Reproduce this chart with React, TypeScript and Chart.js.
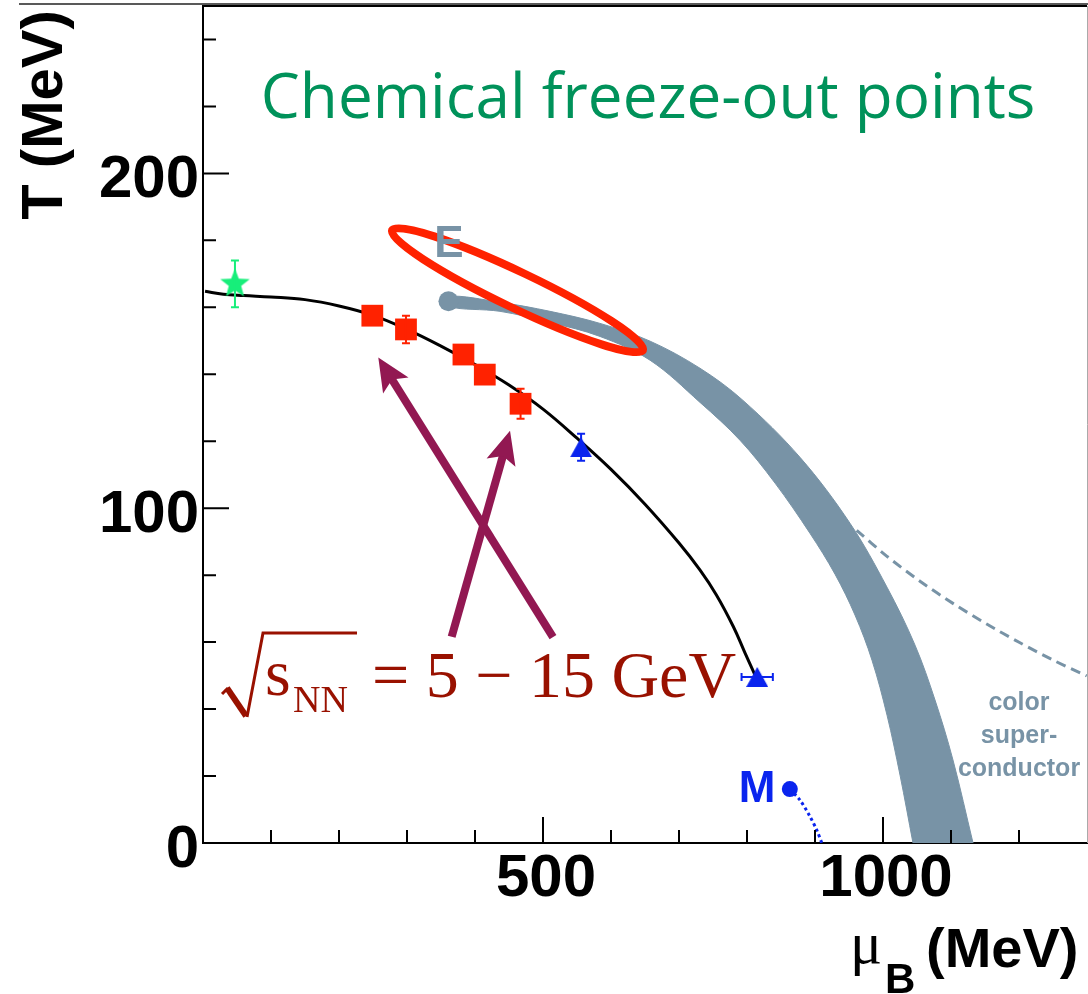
import React, { useEffect, useRef } from 'react';
import { Chart, registerables } from 'chart.js';

Chart.register(...registerables);

// ---------- axes ----------
const X_MIN = 0;
const X_MAX = 1300;
const Y_MIN = 0;
const Y_MAX = 250;
const X_TICK_LABELS = [500, 1000];
const Y_TICK_LABELS = [0, 100, 200];
const X_MINOR_TICKS = [100, 200, 300, 400, 600, 700, 800, 900, 1100, 1200];
const Y_MINOR_TICKS = [20, 40, 60, 80, 120, 140, 160, 180, 220, 240];

// ---------- chemical freeze-out curve ----------
const CURVE_MU = [3, 30, 60, 100, 150, 200, 250, 300, 350, 400, 450, 500, 550, 600, 650, 700, 731, 755, 780, 797, 813];
const CURVE_T = [164.8, 163.9, 163.5, 163.1, 162.3, 160.4, 157.6, 153.4, 148.4, 142.9, 136.8, 129.6, 120.9, 111.6, 101.2, 89.6, 81.5, 74.1, 64.6, 56.8, 49.6];

// ---------- data points ----------
const STAR_MU = [47];
const STAR_T = [167];
const STAR_ERR_T = [7];

const SQUARE_MU = [249, 298.5, 383, 414.4, 467];
const SQUARE_T = [157.5, 153.4, 145.9, 139.9, 131.2];
const SQUARE_ERR_T = [0, 4.1, 0, 0, 4.5];

const TRIANGLE_MU = [556, 815];
const TRIANGLE_T = [118.2, 49.6];
const TRIANGLE_ERR_T = [4, 0];
const TRIANGLE_ERR_MU = [0, 23];

// ---------- phase boundary band (upper/right edge and lower/left edge) ----------
const BAND_UPPER_MU = [360.3, 436.8, 510.3, 583.8, 657.4, 730.9, 794.1, 877.9, 951.5, 1005.9, 1047.1, 1076.5, 1102.9, 1132.4];
const BAND_UPPER_T = [163.3, 161.5, 158.8, 155.2, 149.9, 141.8, 132.2, 115.2, 95.5, 76.4, 59.1, 42.7, 24.8, 0];
const BAND_LOWER_MU = [360.3, 436.8, 510.3, 583.8, 657.4, 730.9, 789.7, 841.2, 892.6, 929.4, 958.8, 983.8, 1005.9, 1025, 1044.1];
const BAND_LOWER_T = [160.3, 158.8, 155.5, 151.3, 144.2, 131.6, 120.3, 107.5, 92.5, 80.3, 68.1, 54.6, 38.2, 20.3, 0];

const CRITICAL_POINT_MU = [361];
const CRITICAL_POINT_T = [161.8];

// ---------- colour superconductor boundary ----------
const CSC_MU = [961.3, 1005.4, 1054.4, 1103.4, 1152.5, 1201.5, 1250.4, 1299.5];
const CSC_T = [93.4, 85.7, 78.2, 71.5, 65.4, 59.8, 54.6, 49.9];

// ---------- nuclear matter point M ----------
const M_POINT_MU = [863];
const M_POINT_T = [16.1];
const M_LINE_MU = [863, 878, 892.6, 902.5, 910];
const M_LINE_T = [16.1, 12.8, 7.9, 3.9, 0];

// ---------- annotations (data coordinates) ----------
const ELLIPSE_CENTER = [462.5, 165.1];
const ELLIPSE_END = [647, 147.2];
const ARROW_1 = [514.7, 61.5, 257.8, 145];
const ARROW_2 = [365.7, 61.6, 451.5, 123.1];

const TITLE_TEXT = 'Chemical freeze-out points';
const TITLE_POS = [85, 216.4];
const E_TEXT = 'E';
const E_POS = [340, 175];
const M_TEXT = 'M';
const M_POS = [788, 12.2];
const CSC_LINES = ['color', 'super-', 'conductor'];
const CSC_POS = [1200, 39.7];
const SQRT_POS = [91.2, 44.2];
const SQRT_SUB = 'NN';
const SQRT_RHS = '= 5 \u2212 15 GeV';
const Y_TITLE = 'T (MeV)';
const X_TITLE_MU = '\u03bc';
const X_TITLE_SUB = 'B';
const X_TITLE_UNIT = '(MeV)';

// ---------- styles ----------
const BAND_COLOR = '#7893a6';
const RED = '#ff2200';
const BLUE = '#0a24ee';
const GREEN_STAR = '#17ee7a';
const ARROW_COLOR = '#921852';
const TEXT_RED = '#991100';
const TITLE_GREEN = '#00925a';
const SANS = '"Liberation Sans", Arial, Helvetica, sans-serif';
const SERIF = '"Liberation Serif", "Times New Roman", serif';

const zip = (xs: number[], ys: number[]) => xs.map((x, i) => ({ x, y: ys[i] }));

function makeStar(color: string, R: number) {
  const c = document.createElement('canvas');
  const s = Math.ceil(2 * R + 2);
  c.width = s;
  c.height = s;
  const g = c.getContext('2d')!;
  g.fillStyle = color;
  g.beginPath();
  const r = R * 0.42;
  for (let i = 0; i < 10; i++) {
    const a = -Math.PI / 2 + (i * Math.PI) / 5;
    const rr = i % 2 === 0 ? R : r;
    const x = s / 2 + rr * Math.cos(a);
    const y = s / 2 + rr * Math.sin(a);
    if (i === 0) g.moveTo(x, y);
    else g.lineTo(x, y);
  }
  g.closePath();
  g.fill();
  return c;
}

function makeTriangle(color: string, w: number, h: number) {
  const c = document.createElement('canvas');
  c.width = w;
  c.height = h;
  const g = c.getContext('2d')!;
  g.fillStyle = color;
  g.beginPath();
  g.moveTo(w / 2, 0);
  g.lineTo(w, h);
  g.lineTo(0, h);
  g.closePath();
  g.fill();
  return c;
}

function drawArrow(ctx: CanvasRenderingContext2D, x1: number, y1: number, x2: number, y2: number) {
  const dx = x2 - x1;
  const dy = y2 - y1;
  const L = Math.hypot(dx, dy);
  const ux = dx / L;
  const uy = dy / L;
  const nx = -uy;
  const ny = ux;
  const headLen = 33;
  const headHalf = 15;
  const notch = 7;
  ctx.strokeStyle = ARROW_COLOR;
  ctx.fillStyle = ARROW_COLOR;
  ctx.lineWidth = 8;
  ctx.lineCap = 'butt';
  ctx.beginPath();
  ctx.moveTo(x1, y1);
  ctx.lineTo(x2 - ux * (headLen - notch - 2), y2 - uy * (headLen - notch - 2));
  ctx.stroke();
  ctx.beginPath();
  ctx.moveTo(x2, y2);
  ctx.lineTo(x2 - ux * headLen + nx * headHalf, y2 - uy * headLen + ny * headHalf);
  ctx.lineTo(x2 - ux * (headLen - notch), y2 - uy * (headLen - notch));
  ctx.lineTo(x2 - ux * headLen - nx * headHalf, y2 - uy * headLen - ny * headHalf);
  ctx.closePath();
  ctx.fill();
}

const errorBarPlugin = {
  id: 'errorBars',
  afterDatasetDraw(chart: any, args: any) {
    const ds: any = chart.data.datasets[args.index];
    if (!ds.errT && !ds.errMu) return;
    const xs = chart.scales.x;
    const ys = chart.scales.y;
    const ctx: CanvasRenderingContext2D = chart.ctx;
    ctx.save();
    ctx.strokeStyle = ds.errColor;
    ctx.lineWidth = 2;
    ds.data.forEach((p: any, i: number) => {
      const x = xs.getPixelForValue(p.x);
      const y = ys.getPixelForValue(p.y);
      const eT = ds.errT ? ds.errT[i] : 0;
      if (eT > 0) {
        const y1 = ys.getPixelForValue(p.y - eT);
        const y2 = ys.getPixelForValue(p.y + eT);
        ctx.beginPath();
        ctx.moveTo(x, y1);
        ctx.lineTo(x, y2);
        ctx.moveTo(x - 4, y1);
        ctx.lineTo(x + 4, y1);
        ctx.moveTo(x - 4, y2);
        ctx.lineTo(x + 4, y2);
        ctx.stroke();
      }
      const eM = ds.errMu ? ds.errMu[i] : 0;
      if (eM > 0) {
        const x1 = xs.getPixelForValue(p.x - eM);
        const x2 = xs.getPixelForValue(p.x + eM);
        ctx.beginPath();
        ctx.moveTo(x1, y);
        ctx.lineTo(x2, y);
        ctx.moveTo(x1, y - 4);
        ctx.lineTo(x1, y + 4);
        ctx.moveTo(x2, y - 4);
        ctx.lineTo(x2, y + 4);
        ctx.stroke();
      }
    });
    ctx.restore();
  },
};

const decorPlugin = {
  id: 'decor',
  afterDatasetsDraw(chart: any) {
    const xs = chart.scales.x;
    const ys = chart.scales.y;
    const ctx: CanvasRenderingContext2D = chart.ctx;
    const X = (v: number) => xs.getPixelForValue(v);
    const Y = (v: number) => ys.getPixelForValue(v);
    ctx.save();
    const cx = X(ELLIPSE_CENTER[0]);
    const cy = Y(ELLIPSE_CENTER[1]);
    const ex = X(ELLIPSE_END[0]);
    const ey = Y(ELLIPSE_END[1]);
    const a = Math.hypot(ex - cx, ey - cy);
    const ang = Math.atan2(ey - cy, ex - cx);
    ctx.strokeStyle = RED;
    ctx.lineWidth = 8;
    ctx.beginPath();
    ctx.ellipse(cx, cy, a, 18, ang, 0, Math.PI * 2);
    ctx.stroke();
    drawArrow(ctx, X(ARROW_1[0]), Y(ARROW_1[1]), X(ARROW_1[2]), Y(ARROW_1[3]));
    drawArrow(ctx, X(ARROW_2[0]), Y(ARROW_2[1]), X(ARROW_2[2]), Y(ARROW_2[3]));
    ctx.restore();
  },
  afterDraw(chart: any) {
    const xs = chart.scales.x;
    const ys = chart.scales.y;
    const area = chart.chartArea;
    const ctx: CanvasRenderingContext2D = chart.ctx;
    const X = (v: number) => xs.getPixelForValue(v);
    const Y = (v: number) => ys.getPixelForValue(v);
    ctx.save();
    // frame
    ctx.strokeStyle = '#222';
    ctx.lineWidth = 1.5;
    ctx.beginPath();
    ctx.moveTo(19, 4);
    ctx.lineTo(1088, 4);
    ctx.stroke();
    ctx.strokeStyle = '#000';
    ctx.lineWidth = 2;
    ctx.beginPath();
    ctx.moveTo(area.left, area.top);
    ctx.lineTo(area.right, area.top);
    ctx.stroke();
    ctx.strokeStyle = '#aaa';
    ctx.lineWidth = 1;
    ctx.beginPath();
    ctx.moveTo(area.right + 0.5, area.top);
    ctx.lineTo(area.right + 0.5, area.bottom);
    ctx.stroke();
    // inner ticks
    ctx.strokeStyle = '#000';
    ctx.lineWidth = 2;
    ctx.beginPath();
    X_TICK_LABELS.forEach((v) => {
      const x = X(v);
      ctx.moveTo(x, area.bottom);
      ctx.lineTo(x, area.bottom - 26);
    });
    X_MINOR_TICKS.forEach((v) => {
      const x = X(v);
      ctx.moveTo(x, area.bottom);
      ctx.lineTo(x, area.bottom - 13);
    });
    Y_TICK_LABELS.forEach((v) => {
      const y = Y(v);
      ctx.moveTo(area.left, y);
      ctx.lineTo(area.left + 26, y);
    });
    Y_MINOR_TICKS.forEach((v) => {
      const y = Y(v);
      ctx.moveTo(area.left, y);
      ctx.lineTo(area.left + 13, y);
    });
    ctx.stroke();

    // title
    ctx.fillStyle = TITLE_GREEN;
    ctx.font = '62px "Open Sans", sans-serif';
    ctx.textAlign = 'left';
    ctx.textBaseline = 'alphabetic';
    ctx.fillText(TITLE_TEXT, X(TITLE_POS[0]), Y(TITLE_POS[1]));

    // E and M labels
    ctx.font = 'bold 44px ' + SANS;
    ctx.fillStyle = BAND_COLOR;
    ctx.fillText(E_TEXT, X(E_POS[0]), Y(E_POS[1]));
    ctx.fillStyle = BLUE;
    ctx.fillText(M_TEXT, X(M_POS[0]), Y(M_POS[1]));

    // colour superconductor
    ctx.font = 'bold 25px ' + SANS;
    ctx.fillStyle = BAND_COLOR;
    ctx.textAlign = 'center';
    CSC_LINES.forEach((s, i) => ctx.fillText(s, X(CSC_POS[0]), Y(CSC_POS[1]) + i * 33));

    // sqrt(s_NN) = 5 - 15 GeV
    const sx = X(SQRT_POS[0]);
    const sy = Y(SQRT_POS[1]);
    ctx.fillStyle = TEXT_RED;
    ctx.strokeStyle = TEXT_RED;
    ctx.textAlign = 'left';
    ctx.font = '66px ' + SERIF;
    ctx.fillText('s', sx, sy);
    ctx.font = '38px ' + SERIF;
    ctx.fillText(SQRT_SUB, sx + 28, sy + 17);
    ctx.font = '66px ' + SERIF;
    ctx.fillText(SQRT_RHS, sx + 107, sy + 2);
    ctx.lineJoin = 'miter';
    ctx.lineWidth = 3;
    ctx.beginPath();
    ctx.moveTo(sx - 43, sy - 1);
    ctx.lineTo(sx - 37, sy - 7);
    ctx.moveTo(sx - 18, sy + 22);
    ctx.lineTo(sx - 2, sy - 62);
    ctx.lineTo(sx + 92, sy - 62);
    ctx.stroke();
    ctx.lineWidth = 6;
    ctx.beginPath();
    ctx.moveTo(sx - 38, sy - 7);
    ctx.lineTo(sx - 19, sy + 21);
    ctx.stroke();

    // axis titles
    ctx.fillStyle = '#000';
    ctx.font = 'bold 58px ' + SANS;
    ctx.save();
    ctx.translate(62, 115);
    ctx.rotate(-Math.PI / 2);
    ctx.textAlign = 'center';
    ctx.fillText(Y_TITLE, 0, 0);
    ctx.restore();
    ctx.textAlign = 'left';
    ctx.font = '60px ' + SERIF;
    ctx.fillText(X_TITLE_MU, 850, 963);
    ctx.font = 'bold 42px ' + SANS;
    ctx.fillText(X_TITLE_SUB, 885, 993);
    ctx.font = 'bold 56px ' + SANS;
    ctx.fillText(X_TITLE_UNIT, 926, 967);
    ctx.restore();
  },
};

export default function App() {
  const ref = useRef<HTMLCanvasElement>(null);
  useEffect(() => {
    document.body.style.margin = '0';
    const canvas = ref.current!;
    const star = makeStar(GREEN_STAR, 15.5);
    const tri = makeTriangle(BLUE, 22, 20);
    // closed outline: up the right edge to E, then down the left edge
    const bandPoly = [
      ...zip(BAND_UPPER_MU, BAND_UPPER_T).reverse(),
      ...zip(BAND_LOWER_MU, BAND_LOWER_T),
    ];
    const tickFont = { family: SANS, size: 60, weight: 'bold' as const };
    const chart = new Chart(canvas, {
      type: 'scatter',
      data: {
        datasets: [
          {
            data: bandPoly,
            showLine: true,
            fill: 'shape',
            backgroundColor: BAND_COLOR,
            borderColor: BAND_COLOR,
            borderWidth: 1,
            pointRadius: 0,
            tension: 0.35,
            order: 20,
          } as any,
          {
            data: zip(CSC_MU, CSC_T),
            showLine: true,
            borderColor: BAND_COLOR,
            borderWidth: 3,
            borderDash: [10, 6],
            pointRadius: 0,
            tension: 0.3,
            order: 19,
          },
          {
            data: zip(CRITICAL_POINT_MU, CRITICAL_POINT_T),
            pointRadius: 10,
            pointStyle: 'circle',
            backgroundColor: BAND_COLOR,
            borderWidth: 0,
            order: 18,
          },
          {
            data: zip(M_LINE_MU, M_LINE_T),
            showLine: true,
            borderColor: BLUE,
            borderWidth: 3,
            borderDash: [3, 3],
            pointRadius: 0,
            tension: 0.3,
            order: 17,
          },
          {
            data: zip(M_POINT_MU, M_POINT_T),
            pointRadius: 8,
            pointStyle: 'circle',
            backgroundColor: BLUE,
            borderWidth: 0,
            order: 16,
          },
          {
            data: zip(CURVE_MU, CURVE_T),
            showLine: true,
            borderColor: '#000',
            borderWidth: 3,
            pointRadius: 0,
            tension: 0.4,
            order: 15,
          },
          {
            data: zip(STAR_MU, STAR_T),
            pointStyle: star,
            pointRadius: 10,
            errT: STAR_ERR_T,
            errColor: GREEN_STAR,
            order: 5,
          } as any,
          {
            data: zip(SQUARE_MU, SQUARE_T),
            pointStyle: 'rect',
            pointRadius: 15.4,
            backgroundColor: RED,
            borderColor: RED,
            borderWidth: 0,
            errT: SQUARE_ERR_T,
            errColor: RED,
            order: 4,
          } as any,
          {
            data: zip(TRIANGLE_MU, TRIANGLE_T),
            pointStyle: tri,
            pointRadius: 10,
            errT: TRIANGLE_ERR_T,
            errMu: TRIANGLE_ERR_MU,
            errColor: BLUE,
            order: 3,
          } as any,
        ],
      },
      options: {
        animation: false,
        responsive: false,
        maintainAspectRatio: false,
        events: [],
        layout: { autoPadding: false, padding: { top: 6, right: 1, left: 0, bottom: 0 } },
        plugins: {
          legend: { display: false },
          tooltip: { enabled: false },
          title: { display: false },
        },
        scales: {
          x: {
            type: 'linear',
            min: X_MIN,
            max: X_MAX,
            position: 'bottom',
            afterBuildTicks: (s: any) => {
              s.ticks = X_TICK_LABELS.map((v) => ({ value: v }));
            },
            afterFit: (s: any) => {
              s.height = 151;
              s.paddingLeft = 0;
              s.paddingRight = 0;
            },
            ticks: {
              callback: (v: any) => String(v),
              font: tickFont,
              color: '#000',
              padding: 0,
              maxRotation: 0,
              minRotation: 0,
              autoSkip: false,
              labelOffset: 3,
            },
            grid: { display: false, drawTicks: false },
            border: { display: true, color: '#000', width: 2 },
          },
          y: {
            type: 'linear',
            min: Y_MIN,
            max: Y_MAX,
            position: 'left',
            afterBuildTicks: (s: any) => {
              s.ticks = Y_TICK_LABELS.map((v) => ({ value: v }));
            },
            afterFit: (s: any) => {
              s.width = 203;
              s.paddingTop = 0;
              s.paddingBottom = 0;
            },
            ticks: {
              callback: (v: any) => String(v),
              font: tickFont,
              color: '#000',
              padding: 4,
              autoSkip: false,
              labelOffset: 7,
            },
            grid: { display: false, drawTicks: false },
            border: { display: true, color: '#000', width: 2 },
          },
        },
      },
      plugins: [errorBarPlugin, decorPlugin],
    } as any);
    return () => chart.destroy();
  }, []);
  return (
    <div style={{ position: 'absolute', left: 0, top: 0, width: 1088, height: 994, background: '#fff' }}>
      <canvas ref={ref} width={1088} height={994} style={{ display: 'block', width: 1088, height: 994 }} />
    </div>
  );
}
